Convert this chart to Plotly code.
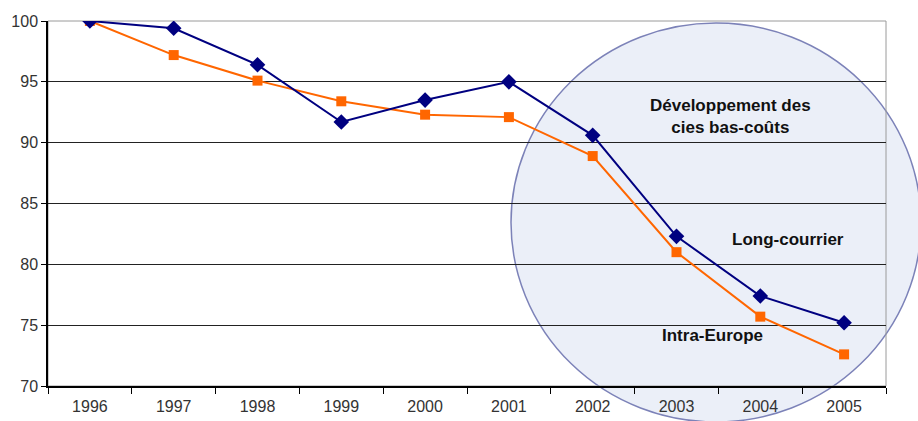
import plotly.graph_objects as go

# Indice 1996 = 100
annees = ["1996", "1997", "1998", "1999", "2000", "2001", "2002", "2003", "2004", "2005"]
long_courrier = [100, 99.4, 96.4, 91.7, 93.5, 95.0, 90.6, 82.3, 77.4, 75.2]
intra_europe = [100, 97.2, 95.1, 93.4, 92.3, 92.1, 88.9, 81.0, 75.7, 72.6]
y_ticks = [70, 75, 80, 85, 90, 95, 100]

W, H = 918, 421
L, R, T, B = 48, 32, 21, 35
pw, ph = W - L - R, H - T - B


def px_x(px):
    return (px - L) / pw


def px_y(py):
    return (H - B - py) / ph


fig = go.Figure()

fig.add_trace(go.Scatter(
    x=annees, y=intra_europe, name="Intra-Europe", mode="lines+markers",
    line=dict(color="#FF6600", width=2),
    marker=dict(symbol="square", size=10, color="#FF6600"),
))
fig.add_trace(go.Scatter(
    x=annees, y=long_courrier, name="Long-courrier", mode="lines+markers",
    line=dict(color="#000080", width=2),
    marker=dict(symbol="diamond", size=12, color="#000080"),
))

# Zone des compagnies bas-coûts
fig.add_shape(
    type="circle", xref="paper", yref="paper", layer="below",
    x0=px_x(511), x1=px_x(921), y0=px_y(422), y1=px_y(23),
    fillcolor="#ebeff8", line=dict(color="#7c82b8", width=1.5),
)
# Cadre gris haut / droite
fig.add_shape(
    type="rect", xref="paper", yref="paper", layer="below",
    x0=0, x1=1, y0=0, y1=1, line=dict(color="#9a9a9a", width=1),
)

font_txt = dict(family="Liberation Sans, Arial, sans-serif", size=17, color="#111111")
notes = [
    ("<b>Développement des<br>cies bas-coûts</b>", 730, 116),
    ("<b>Long-courrier</b>", 788, 239),
    ("<b>Intra-Europe</b>", 712, 335),
]
for txt, nx, ny in notes:
    fig.add_annotation(x=px_x(nx), y=px_y(ny), xref="paper", yref="paper",
                       xanchor="center", yanchor="middle",
                       text=txt, showarrow=False, font=font_txt, align="center")

tick_font = dict(family="Liberation Sans, Arial, sans-serif", size=16, color="#333333")

fig.update_layout(
    width=W, height=H,
    margin=dict(l=L, r=R, t=T, b=B, pad=0, autoexpand=False),
    paper_bgcolor="white", plot_bgcolor="rgba(0,0,0,0)",
    showlegend=False,
    xaxis=dict(
        type="category", tickson="boundaries", ticks="outside", ticklen=6,
        tickcolor="black", showline=True, linecolor="black", linewidth=1.5,
        showgrid=False, tickfont=tick_font, range=[-0.5, 9.5],
        ticklabelstandoff=5, automargin=False,
    ),
    yaxis=dict(
        range=[70, 100], tickvals=y_ticks, ticks="outside", ticklen=5,
        tickcolor="black", showline=True, linecolor="black", linewidth=1.5,
        showgrid=True, gridcolor="#222222", gridwidth=1, zeroline=False,
        tickfont=tick_font, automargin=False,
    ),
)

fig.write_html("out.html")
